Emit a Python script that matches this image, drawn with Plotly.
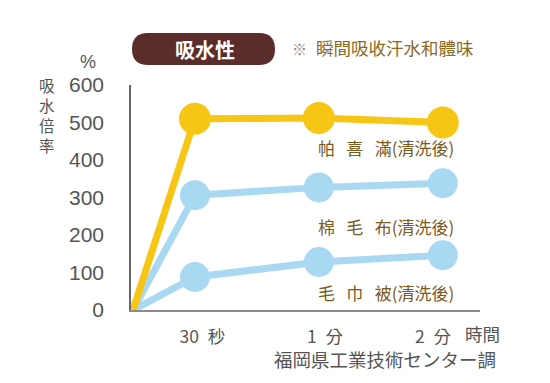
import plotly.graph_objects as go

# ---- data ----
time_pos = [0, 0.5, 1.5, 2.5]          # 0, 30秒, 1分, 2分 (axis positions)
tick_labels = ["30\u2002秒", "1\u2002分", "2\u2002分"]
pakiman = [0, 510, 512, 500]            # 帕喜滿(清洗後)
cotton_blanket = [0, 306, 327, 338]     # 棉毛布(清洗後)
towel_blanket = [0, 88, 128, 146]       # 毛巾被(清洗後)
SP = "\u2002\u2006"
series_names = [SP.join("帕喜滿") + "(清洗後)", SP.join("棉毛布") + "(清洗後)",
                SP.join("毛巾被") + "(清洗後)"]
y_ticks = [0, 100, 200, 300, 400, 500, 600]
y_title = "吸水倍率"

YELLOW = "#F7C514"
BLUE = "#A9D8F2"
BROWN_TXT = "#7B5A1E"
GRAY = "#555555"

L, R, T, B = 131, 70, 85, 73
W, H = 550, 383
PW, PH = W - L - R, H - T - B
TICK_LABEL_POS = [0.56, 1.55, 2.42]   # layout: where the tick texts sit

def px(x):
    return (x - L) / PW

def py(y):
    return (H - B - y) / PH

fig = go.Figure()
for vals, col, lw, ms in [
    (towel_blanket, BLUE, 7, 30),
    (cotton_blanket, BLUE, 7, 30),
    (pakiman, YELLOW, 7, 32),
]:
    fig.add_trace(go.Scatter(
        x=time_pos, y=vals, mode="lines",
        line=dict(color=col, width=lw), hoverinfo="skip", showlegend=False))
    fig.add_trace(go.Scatter(
        x=time_pos[1:], y=vals[1:], mode="markers",
        marker=dict(color=col, size=ms, line=dict(width=0)),
        hoverinfo="skip", showlegend=False))

fig.update_layout(
    width=W, height=H,
    margin=dict(l=L, r=R, t=T, b=B),
    paper_bgcolor="white", plot_bgcolor="white",
    font=dict(family="Noto Sans CJK TC, Noto Sans, sans-serif", color=GRAY),
    xaxis=dict(range=[-0.016, 2.8], tickvals=TICK_LABEL_POS, ticktext=tick_labels,
               showgrid=False, zeroline=False, showline=True, linecolor="#8a8a8a",
               linewidth=2, ticks="", ticklabelstandoff=10,
               tickfont=dict(size=17.5, color=GRAY,
                             family="Noto Sans CJK TC, Noto Sans, sans-serif")),
    yaxis=dict(range=[0, 600], tickvals=y_ticks, showgrid=False, zeroline=False,
               showline=True, linecolor="#666666", linewidth=1.5, ticks="",
               ticklabelstandoff=21,
               tickfont=dict(size=21, color=GRAY, family="Liberation Sans, Arial")),
    shapes=[dict(type="path", xref="paper", yref="paper",
                 path=("M {a},{b} L {c},{b} Q {d},{b} {d},{e} Q {d},{f} {c},{f} "
                       "L {a},{f} Q {g},{f} {g},{e} Q {g},{b} {a},{b} Z").format(
                     a=px(148), c=px(259), d=px(275), g=px(132),
                     b=py(33), f=py(65), e=py(49)),
                 fillcolor="#5A2D2A", line=dict(width=0))],
)

ann = []
ann.append(dict(x=px(205), y=py(49), text="<b>吸水性</b>",
                font=dict(size=20, color="white")))
ann.append(dict(x=px(290), y=py(48), text="※", xanchor="left",
                font=dict(size=15, color="#888888")))
ann.append(dict(x=px(314), y=py(47), text="瞬間吸收汗水和體味", xanchor="left",
                font=dict(size=17.5, color="#8A6A25")))
ann.append(dict(x=px(88), y=py(62), text="%", font=dict(size=18, color=GRAY,
                family="Liberation Sans, Arial")))
ann.append(dict(x=px(47), y=py(115), text="<br>".join(y_title),
                font=dict(size=15.5, color=GRAY)))
ann.append(dict(x=px(463), y=py(333), text="時間", xanchor="left",
                font=dict(size=17.5, color=GRAY)))
ann.append(dict(x=px(498), y=py(359), text="福岡県工業技術センター調", xanchor="right",
                font=dict(size=18.5, color=GRAY)))
for name, yy in zip(series_names, [147, 226, 292]):
    ann.append(dict(x=px(386), y=py(yy), text=name,
                    font=dict(size=17, color=BROWN_TXT)))
for a in ann:
    a.setdefault("xanchor", "center")
    a.update(xref="paper", yref="paper", showarrow=False, yanchor="middle")
fig.update_layout(annotations=ann)

fig.write_html("out.html", config={"displayModeBar": False},
               post_script="document.body.style.margin='0';")
